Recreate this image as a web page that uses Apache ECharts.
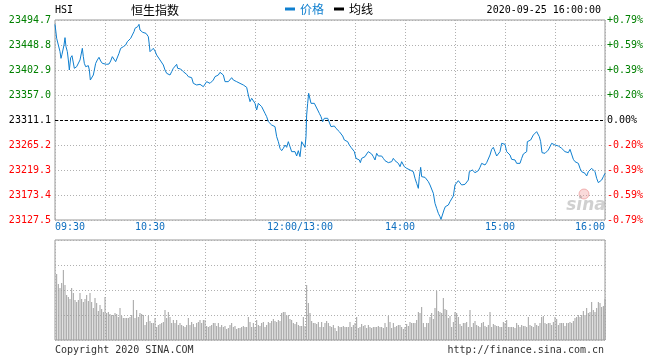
<!DOCTYPE html>
<html>
<head>
<meta charset="utf-8">
<script src="https://cdn.jsdelivr.net/npm/echarts@6/dist/echarts.min.js"></script>
<style>html,body{margin:0;padding:0;background:#fff;}#c{width:660px;height:360px;}</style>
</head>
<body>
<div id="c"></div>
<script>
// ---- data ----
const symbol = 'HSI';
const indexName = '恒生指数';
const stamp = '2020-09-25 16:00:00';
const prevClose = 23311.1;
const yTicks = [23127.5, 23173.4, 23219.3, 23265.2, 23311.1, 23357.0, 23402.9, 23448.8, 23494.7];
const xLabelMinutes = [0, 60, 150, 210, 270, 330];
const xLabelTexts = ['09:30', '10:30', '12:00/13:00', '14:00', '15:00', '16:00'];

// minutes since 09:30 on the trading clock (12:00 and 13:00 share minute 150)
const priceMinutes = [
0,1,2,2.4,3,3.6,4.2,4.6,5.4,6,6.6,7.4,8,8.6,9.4,10.2,11,11.6,12.4,13,14,15,15.6,16.4,17,17.6,18.4,19,20,20.6,
21.2,22,23,23.6,24.4,25.4,26.4,27.4,28.4,29.4,31,32.4,33.4,34.4,35.4,36.4,37.4,38.4,39.4,41,42.4,43.4,44.4,45.4,46.4,47.4,48,48.6,49,49.6,
50.4,51,51.6,52.6,53.6,54.6,55.4,56,56.6,57,58,59,60,61,62,63,64,65,66,67,68,69,70,71,72,73,73.6,74.6,75.4,76.2,
77,78,79,80,81,82,83,84,85,86,87,88,89,90,91,92,93,94,95,96,97,98,99,100,101,102,103,104,105,106,
107,108,109,110,111,112,113,114,115,116,117,118,119,120,121,122,123,124,125,126,127,128,129,130,131,132,133,134,135,136,
137,138,139,140,141,142,143,144,145,146,147,148,149,150,150.6,151,151.6,152.2,153,153.6,154.6,155.6,156.6,157.6,158.6,159.6,160.6,161.6,162.6,163.6,
164.6,165.6,166.6,167.6,168.6,169.6,170.6,171.6,172.6,173.6,174.6,175.6,176.6,177.6,178.6,179.6,180.6,181.6,182.6,183.2,184,185,186,187,188,189,190,191,192,193,
194,195,196,197,198,199,200,201,202,203,204,205,206,207,208,209,209.6,210.4,211,212,213,214,215,216,217,218,218.6,219.4,220,221,
222,223,224,225,226,227,228,229,230,231,231.6,232.6,233.4,234.2,235,236,237,238,239,240,241,242,243,244,245,246,247,248,248.6,249.4,
250.4,251.4,252,253,254,255,256,257,258,259,260,261,262,263,264,265,266,267,268,269,270,271,272,273,274,275,276,277,278,279,
280,281,282,283,283.4,284.6,285.4,286,287,288,289,290,290.6,291.4,292.2,293,294,295,296,297,298,299,300,301,302,303,304,305,306,307,
308,309,310,311,312,313,314,315,316,317,318,319,320,321,322,323,324,325,326,327,328,329,330
];
const priceValues = [
23486.7,23461.0,23448.8,23448.8,23436.6,23424.3,23431.7,23435.3,23448.8,23462.3,23445.7,23436.6,23421.3,23402.9,23425.5,23429.2,23427.4,23406.0,23402.9,23409.0,23412.1,23421.3,23430.4,23442.7,23427.4,23415.1,23409.0,23412.1,23410.9,23402.9,
23384.5,23387.6,23393.7,23402.9,23415.1,23421.3,23426.2,23419.4,23415.1,23412.1,23413.3,23413.9,23419.4,23427.4,23424.3,23418.2,23418.2,23433.5,23442.7,23445.7,23448.8,23454.9,23458.0,23461.0,23467.2,23473.3,23479.4,23479.4,23476.3,23482.5,
23486.7,23476.3,23479.4,23472.1,23473.3,23470.2,23470.2,23464.1,23448.8,23436.6,23439.6,23442.7,23437.8,23430.4,23427.4,23421.3,23418.2,23412.1,23402.9,23396.8,23394.9,23393.7,23399.8,23406.0,23409.0,23413.3,23406.0,23402.9,23404.7,23402.9,
23399.8,23398.6,23394.9,23390.7,23387.6,23388.8,23378.4,23378.4,23375.4,23374.1,23376.6,23374.1,23372.3,23375.4,23381.5,23378.4,23378.4,23381.5,23384.5,23390.7,23390.7,23393.7,23398.6,23401.1,23393.7,23381.5,23381.5,23381.5,23382.5,23388.8,
23384.5,23384.5,23381.5,23378.4,23378.4,23379.6,23375.4,23372.3,23371.1,23357.0,23344.8,23350.9,23347.8,23341.7,23329.5,23341.7,23338.6,23335.6,23332.5,23323.3,23317.2,23308.0,23305.0,23301.9,23305.0,23298.9,23280.5,23271.3,23259.1,23254.8,
23259.1,23265.2,23260.9,23271.3,23271.3,23253.0,23251.1,23253.0,23245.0,23254.8,23243.8,23271.3,23268.3,23260.9,23280.5,23320.3,23341.7,23360.1,23363.1,23341.7,23340.5,23341.7,23342.9,23329.5,23323.3,23317.2,23308.0,23314.2,23317.2,23314.2,
23311.1,23298.9,23298.9,23300.1,23295.8,23292.7,23289.7,23286.6,23281.7,23274.4,23271.3,23271.3,23265.2,23260.9,23263.4,23253.0,23240.7,23240.7,23237.7,23232.8,23240.7,23238.9,23243.8,23248.7,23253.0,23253.0,23248.7,23243.8,23237.7,23249.9,
23245.0,23246.8,23245.0,23240.7,23236.4,23232.8,23232.8,23232.8,23234.6,23240.7,23236.4,23234.6,23231.5,23225.4,23234.6,23236.4,23225.4,23228.5,23222.4,23219.3,23219.3,23218.1,23216.2,23204.0,23194.8,23185.6,23207.1,23224.2,23207.1,23205.8,
23205.8,23204.0,23197.9,23191.8,23188.7,23176.5,23158.1,23148.9,23139.8,23133.6,23128.7,23130.6,23145.9,23152.0,23153.2,23155.0,23161.2,23161.2,23171.6,23191.8,23191.8,23199.7,23202.2,23191.8,23191.8,23193.0,23191.8,23200.9,23216.2,23214.4,
23219.3,23222.4,23214.4,23214.4,23218.1,23224.2,23231.5,23234.6,23228.5,23232.8,23234.6,23246.8,23257.2,23260.9,23253.0,23245.0,23248.1,23253.0,23268.3,23270.1,23266.4,23253.0,23253.0,23246.8,23238.9,23240.7,23237.7,23231.5,23230.3,23231.5,
23240.7,23248.7,23249.9,23253.0,23271.3,23268.3,23274.4,23274.4,23283.6,23286.6,23289.7,23289.7,23280.5,23271.3,23251.1,23249.9,23249.9,23249.9,23256.0,23256.0,23268.3,23268.3,23265.2,23263.4,23263.4,23260.9,23259.1,23256.0,23253.0,23251.1,
23251.1,23257.2,23256.0,23238.9,23234.6,23232.8,23231.5,23222.4,23216.2,23216.2,23213.2,23208.3,23216.2,23219.3,23222.4,23220.5,23216.2,23204.0,23196.1,23196.1,23200.9,23207.1,23213.2
];

// volume per minute, relative units (100 = top of the volume panel)
const volAM = [
66,56,52,57,70,55,45,43,41,52,47,40,38,40,47,41,38,41,45,39,
47,38,32,42,37,29,35,31,28,43,27,28,26,25,25,27,26,23,32,24,
22,22,22,22,23,25,40,22,30,23,27,26,25,15,18,24,19,17,17,22,
13,15,16,17,18,30,22,28,23,17,20,17,20,15,17,15,14,13,15,22,
15,18,16,13,17,18,20,17,20,20,14,13,14,15,17,17,14,17,13,15,
13,14,11,12,15,17,13,14,11,12,12,13,14,13,13,23,18,13,17,13,
20,15,14,17,18,13,15,18,17,19,21,19,18,20,19,27,28,28,24,25,
21,20,17,16,18,15,14,14,23,14
];
const volPM = [
55,37,27,19,17,17,16,18,13,18,13,17,19,17,14,
13,15,12,9,14,13,13,14,13,13,13,18,13,15,17,23,12,13,16,14,
15,12,15,13,12,13,13,13,14,13,13,12,17,13,24,18,12,17,13,14,
15,15,13,11,13,16,14,18,17,17,17,20,28,27,33,17,13,17,17,23,
27,21,32,49,29,28,27,42,31,30,22,24,13,18,28,27,23,16,14,17,
17,18,13,30,13,17,19,15,14,13,17,18,14,13,15,28,13,16,15,14,
14,13,13,18,17,20,13,13,13,13,12,17,15,13,15,14,14,13,23,15,
14,13,17,15,14,17,23,24,17,16,17,17,15,18,23,21,15,17,17,17,
14,17,17,18,17,19,22,23,25,23,25,29,25,32,27,28,38,30,28,32,
38,37,33,34,41
];

// ---- build ----
const MONO = 'DejaVu Sans Mono';
const CJK = 'Noto Sans CJK SC';
const GREEN = '#008000', RED = '#ff0000', BLUE = '#0f7fcf', GRID = '#b0b0b0', FRAME = '#999999';
const dotted = { color: GRID, type: [1, 2], width: 1 };

const priceData = priceMinutes.map((m, i) => [m, priceValues[i]]);
const volData = volAM.map((v, i) => [1 + i, v]).concat(volPM.map((v, i) => [151 + i, v]));

function priceColor(v) {
  v = Number(v);
  if (v > prevClose + 0.01) return GREEN;
  if (v < prevClose - 0.01) return RED;
  return '#000';
}
function pctText(v) {
  const p = (Number(v) - prevClose) / prevClose * 100;
  if (Math.abs(p) < 0.001) return '0.00%';
  return (p > 0 ? '+' : '-') + Math.abs(p).toFixed(2) + '%';
}
function xLabel(v) {
  const i = xLabelMinutes.indexOf(Math.round(v));
  if (i < 0) return '';
  if (i === 0) return '{l|' + xLabelTexts[i] + '}';
  if (i === xLabelMinutes.length - 1) return '{r|' + xLabelTexts[i] + '}';
  return '{c|' + xLabelTexts[i] + '}';
}

const chart = echarts.init(document.getElementById('c'), null, { renderer: 'canvas' });
chart.setOption({
  animation: false,
  backgroundColor: '#fff',
  textStyle: { fontFamily: MONO },
  grid: [
    { left: 55, right: 55, top: 20, height: 200, show: true, borderColor: FRAME, borderWidth: 1 },
    { left: 55, right: 55, top: 240, height: 100, show: true, borderColor: FRAME, borderWidth: 1 }
  ],
  legend: {
    left: 285, top: 3, padding: 0, icon: 'rect', itemWidth: 10, itemHeight: 3, itemGap: 10,
    selectedMode: false,
    textStyle: { fontFamily: CJK, fontSize: 12 },
    data: [
      { name: '价格', textStyle: { color: BLUE } },
      { name: '均线', textStyle: { color: '#000' } }
    ]
  },
  xAxis: [
    {
      gridIndex: 0, type: 'value', min: 0, max: 330, interval: 30,
      axisLine: { show: false }, axisTick: { show: false },
      splitLine: { show: true, lineStyle: dotted },
      axisLabel: {
        show: true, margin: 2, formatter: xLabel, fontFamily: MONO, fontSize: 10, color: '#0f6fbf',
        showMinLabel: true, showMaxLabel: true, hideOverlap: false,
        rich: {
          l: { fontFamily: MONO, fontSize: 10, color: '#0f6fbf', padding: [0, 0, 0, 30] },
          r: { fontFamily: MONO, fontSize: 10, color: '#0f6fbf', padding: [0, 30, 0, 0] },
          c: { fontFamily: MONO, fontSize: 10, color: '#0f6fbf', padding: [0, 10, 0, 0] }
        }
      }
    },
    {
      gridIndex: 1, type: 'value', min: 0, max: 330, interval: 30,
      axisLine: { show: false }, axisTick: { show: false }, axisLabel: { show: false },
      splitLine: { show: true, lineStyle: dotted }
    }
  ],
  yAxis: [
    {
      gridIndex: 0, type: 'value', position: 'left', min: yTicks[0], max: yTicks[yTicks.length - 1],
      axisLine: { show: false },
      axisTick: { show: false, customValues: yTicks },
      splitLine: { show: true, lineStyle: dotted },
      axisLabel: {
        customValues: yTicks, margin: 4, fontFamily: MONO, fontSize: 10,
        padding: [0, 0, 6, 0],
        formatter: v => Number(v).toFixed(1), color: priceColor
      }
    },
    {
      gridIndex: 0, type: 'value', position: 'right', min: yTicks[0], max: yTicks[yTicks.length - 1],
      axisLine: { show: false },
      axisTick: { show: false, customValues: yTicks },
      splitLine: { show: false },
      axisLabel: {
        customValues: yTicks, margin: 2, fontFamily: MONO, fontSize: 10,
        padding: [0, 0, 6, 0],
        formatter: pctText, color: priceColor
      }
    },
    {
      gridIndex: 1, type: 'value', min: 0, max: 100, interval: 25,
      axisLine: { show: false }, axisTick: { show: false }, axisLabel: { show: false },
      splitLine: { show: true, lineStyle: dotted }
    }
  ],
  series: [
    {
      name: '价格', type: 'line', xAxisIndex: 0, yAxisIndex: 0, data: priceData,
      showSymbol: false, symbol: 'none', color: BLUE,
      lineStyle: { width: 1, color: BLUE },
      markLine: {
        silent: true, symbol: 'none', label: { show: false },
        lineStyle: { color: '#000', type: [3, 2], width: 1 },
        data: [{ yAxis: prevClose }]
      },
      z: 5
    },
    {
      name: '均线', type: 'line', xAxisIndex: 0, yAxisIndex: 0, data: [],
      showSymbol: false, color: '#000', lineStyle: { width: 1, color: '#000' }
    },
    {
      name: '成交量', type: 'bar', xAxisIndex: 1, yAxisIndex: 2, data: volData,
      barWidth: 1, itemStyle: { color: '#a0a0a0' }
    }
  ],
  graphic: [
    { type: 'text', x: 55, y: 10, style: { text: symbol, font: '10px "' + MONO + '"', fill: '#000', align: 'left', verticalAlign: 'middle' } },
    { type: 'text', x: 131, y: 10, style: { text: indexName, font: '12px "' + CJK + '"', fill: '#000', align: 'left', verticalAlign: 'middle' } },
    { type: 'text', x: 601, y: 10, style: { text: stamp, font: '10px "' + MONO + '"', fill: '#000', align: 'right', verticalAlign: 'middle' } },
    { type: 'text', x: 55, y: 350, style: { text: 'Copyright 2020 SINA.COM', font: '10px "' + MONO + '"', fill: '#333', align: 'left', verticalAlign: 'middle' } },
    { type: 'text', x: 604, y: 350, style: { text: 'http://finance.sina.com.cn', font: '10px "' + MONO + '"', fill: '#333', align: 'right', verticalAlign: 'middle' } },
    { type: 'circle', shape: { cx: 584, cy: 194, r: 5 }, style: { fill: 'rgba(240,150,150,0.35)', stroke: 'rgba(230,120,120,0.5)', lineWidth: 1 }, z: 1 },
    { type: 'text', x: 586, y: 206, style: { text: 'sina', font: 'italic bold 17px "DejaVu Sans"', fill: 'rgba(150,150,150,0.45)', align: 'center', verticalAlign: 'middle' }, z: 1 }
  ]
});
</script>
</body>
</html>
